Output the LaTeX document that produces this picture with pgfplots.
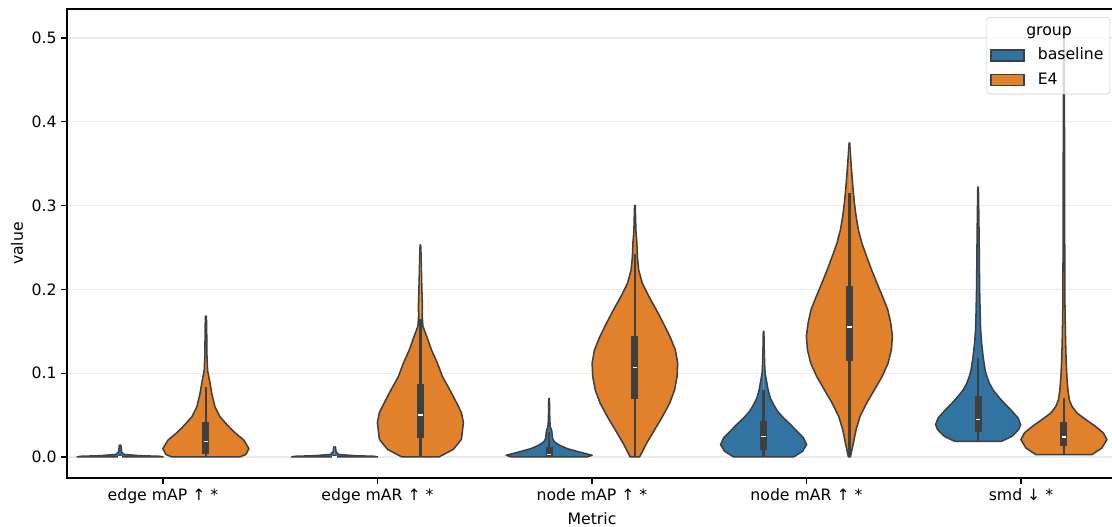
\documentclass[border=0pt]{standalone}
\usepackage{fontspec}
\setmainfont{DejaVu Sans}
\usepackage{pgfplots}
\usepackage{pgfplotstable}
\pgfplotsset{compat=1.18}
\definecolor{cblue}{HTML}{3274A1}
\definecolor{corange}{HTML}{E1812C}
\definecolor{outl}{HTML}{3F3F3F}
\definecolor{gridc}{HTML}{EBEBEB}
\definecolor{legc}{HTML}{CCCCCC}

% violin half-profiles: y = value, w = half width in pixels (max 43 px = 0.2 axis units)
\pgfplotstableread{
y w
0 0
0 43
0.0008 40
0.0015 20
0.003 4
0.006 1.5
0.014 0.8
0.0143 0
}\tEMAPb
\pgfplotstableread{
y w
0 0
0 34
0.003 40
0.0099 43
0.02 38
0.028 30
0.036 23
0.048 14
0.06 9
0.075 6
0.091 3.7
0.103 1.7
0.123 1
0.15 0.8
0.168 0.5
0.168 0
}\tEMAPe
\pgfplotstableread{
y w
0 0
0 43
0.0008 40
0.0015 20
0.003 4
0.006 1.5
0.012 0.8
0.0122 0
}\tEMARb
\pgfplotstableread{
y w
0 0
0 18.5
0.0091 33
0.021 41
0.041 43
0.053 41
0.065 36
0.081 29
0.096 22
0.112 17
0.128 11
0.144 6.3
0.156 2.5
0.168 1.8
0.18 2
0.2 1.5
0.223 1
0.24 0.7
0.253 0.3
0.253 0
}\tEMARe
\pgfplotstableread{
y w
0 0
0 38
0.002 43
0.006 30
0.01 18
0.014 10.5
0.018 5.3
0.022 3.5
0.028 3
0.032 2.5
0.036 1.2
0.044 0.7
0.0696 0.3
0.0696 0
}\tNMAPb
\pgfplotstableread{
y w
0 0
0 4.7
0.0163 11.7
0.032 19.5
0.048 27.5
0.064 34.7
0.08 39.7
0.096 42.2
0.112 42.8
0.1275 40.5
0.143 35.3
0.159 28.7
0.175 21.7
0.191 14.2
0.207 7.5
0.223 3.8
0.239 2.5
0.255 2
0.27 1
0.285 0.7
0.3003 0.3
0.3003 0
}\tNMAPe
\pgfplotstableread{
y w
0 0
0 30
0.0068 39
0.0147 43
0.0227 40
0.0306 33.5
0.0386 27
0.0465 20
0.0545 14
0.0625 10
0.0704 6.7
0.08 4.5
0.09 3
0.1 1.5
0.112 1
0.13 0.6
0.15 0.3
0.15 0
}\tNMARb
\pgfplotstableread{
y w
0 0
0 1
0.0167 4
0.0326 6.7
0.0485 10.7
0.0644 17.3
0.08 25
0.096 32.7
0.112 38.7
0.128 42
0.144 43
0.16 41.3
0.176 38.3
0.191 33.3
0.207 27.7
0.223 22.3
0.239 17.3
0.255 12.5
0.271 9
0.287 6.7
0.303 5
0.319 3.7
0.334 2.7
0.35 1.7
0.362 1
0.375 0.3
0.375 0
}\tNMARe
\pgfplotstableread{
y w
0.0187 0
0.0187 23.5
0.0247 34
0.0326 40.5
0.0386 42.5
0.0465 40
0.0565 32.5
0.0644 26
0.0724 20
0.08 15
0.088 11.3
0.096 8.8
0.104 7
0.12 5
0.136 3.5
0.152 2.5
0.175 2
0.203 1.5
0.243 1.2
0.283 0.8
0.322 0.3
0.322 0
}\tSMDb
\pgfplotstableread{
y w
0.0028 0
0.0028 28
0.0107 38
0.0207 43
0.0286 39.5
0.0366 31.5
0.0445 22
0.0525 13
0.0605 8
0.068 5.5
0.08 4
0.096 3
0.116 2.2
0.148 1.5
0.188 1
0.267 0.8
0.387 0.6
0.505 0.3
0.505 0
}\tSMDe

\newcommand{\violin}[3]{%
  \addplot[forget plot, fill=#3, draw=outl, line width=1.1pt, line join=round]
    table[x expr={#2+\thisrow{w}/214.5}, y=y] {#1};
  \addplot[forget plot, fill=#3, draw=outl, line width=1.1pt, line join=round]
    table[x expr={#2-\thisrow{w}/214.5}, y=y] {#1};
}
% center, whisker low, whisker high, q1, q3, median
\newcommand{\innerbox}[6]{%
  \addplot[forget plot, draw=outl, line width=1.7pt] coordinates {(#1,#2) (#1,#3)};
  \addplot[forget plot, draw=outl, line width=5pt] coordinates {(#1,#4) (#1,#5)};
  \addplot[forget plot, only marks, mark=-, mark size=1.7pt,
    mark options={draw=white, line width=1pt}] coordinates {(#1,#6)};
}

\pgfplotsset{sbpatch/.style={legend image code/.code={%
  \draw[##1, fill opacity=1, sharp corners] (0pt,-4pt) rectangle (23.8pt,4pt);
  \path (31pt,0pt);}}}

\begin{document}
\begin{tikzpicture}
\begin{axis}[name=ax,
  scale only axis, width=756pt, height=337.68pt,
  xmin=-0.4476, xmax=4.4476, ymin=-0.0251, ymax=0.5346,
  xtick={0,1,2,3,4},
  xticklabels={edge mAP ↑ *, edge mAR ↑ *, node mAP ↑ *, node mAR ↑ *, smd ↓ *},
  ytick={0,0.1,0.2,0.3,0.4,0.5},
  yticklabel style={/pgf/number format/.cd, fixed, fixed zerofill, precision=1},
  /pgf/number format/assume math mode=true,
  tick align=outside, tick pos=left, major tick length=4pt,
  every tick/.style={black, line width=0.9pt},
  axis line style={black, line width=0.9pt},
  ymajorgrids, major grid style={gridc, line width=0.9pt},
  tick label style={font=\fontsize{11.3}{13.6}\selectfont},
  xlabel={Metric}, ylabel={value},
  every axis x label/.style={at={(axis description cs:0.5,0)}, yshift=-29.5pt, anchor=center, font=\fontsize{11.3}{13.6}\selectfont},
  every axis y label/.style={at={(axis description cs:0,0.5)}, xshift=-36pt, anchor=center, rotate=90, font=\fontsize{11.3}{13.6}\selectfont},
  legend cell align=left,
  legend style={at={(rel axis cs:1,1)}, xshift=-5pt, yshift=-5.8pt, anchor=north east,
    draw=legc, fill=white, fill opacity=0.8, text opacity=1, rounded corners=2pt,
    font=\fontsize{11.3}{13.6}\selectfont, row sep=2.6pt, inner sep=2.5pt,
    nodes={inner xsep=2pt, inner ysep=2pt, text height=8.6pt, text depth=2.4pt}},
]
\addlegendimage{empty legend}
\addlegendentry{\hspace*{-8.3pt}group}
\addlegendimage{sbpatch, fill=cblue, draw=outl, line width=1.1pt}
\addlegendentry{baseline}
\addlegendimage{sbpatch, fill=corange, draw=outl, line width=1.1pt}
\addlegendentry{E4}

\violin{\tEMAPb}{-0.2}{cblue}
\innerbox{-0.2}{0}{0.002}{0}{0.001}{0}
\violin{\tEMAPe}{0.2}{corange}
\innerbox{0.2}{0}{0.083}{0.004}{0.042}{0.0187}

\violin{\tEMARb}{0.8}{cblue}
\innerbox{0.8}{0}{0.002}{0}{0.001}{0}
\violin{\tEMARe}{1.2}{corange}
\innerbox{1.2}{0}{0.165}{0.023}{0.0865}{0.05}

\violin{\tNMAPb}{1.8}{cblue}
\innerbox{1.8}{0}{0.03}{0}{0.012}{0.003}
\violin{\tNMAPe}{2.2}{corange}
\innerbox{2.2}{0}{0.242}{0.069}{0.144}{0.1065}

\violin{\tNMARb}{2.8}{cblue}
\innerbox{2.8}{0}{0.0796}{0.0087}{0.0426}{0.0247}
\violin{\tNMARe}{3.2}{corange}
\innerbox{3.2}{0}{0.315}{0.115}{0.2035}{0.155}

\violin{\tSMDb}{3.8}{cblue}
\innerbox{3.8}{0.0187}{0.118}{0.0294}{0.0724}{0.0445}
\violin{\tSMDe}{4.2}{corange}
\innerbox{4.2}{0.0028}{0.0704}{0.0127}{0.0414}{0.0239}
\end{axis}
\pgfresetboundingbox
\path[use as bounding box] (ax.south west) ++(-48.24pt,-35.28pt) rectangle ++(800.64pt,379.44pt);
\end{tikzpicture}
\end{document}
